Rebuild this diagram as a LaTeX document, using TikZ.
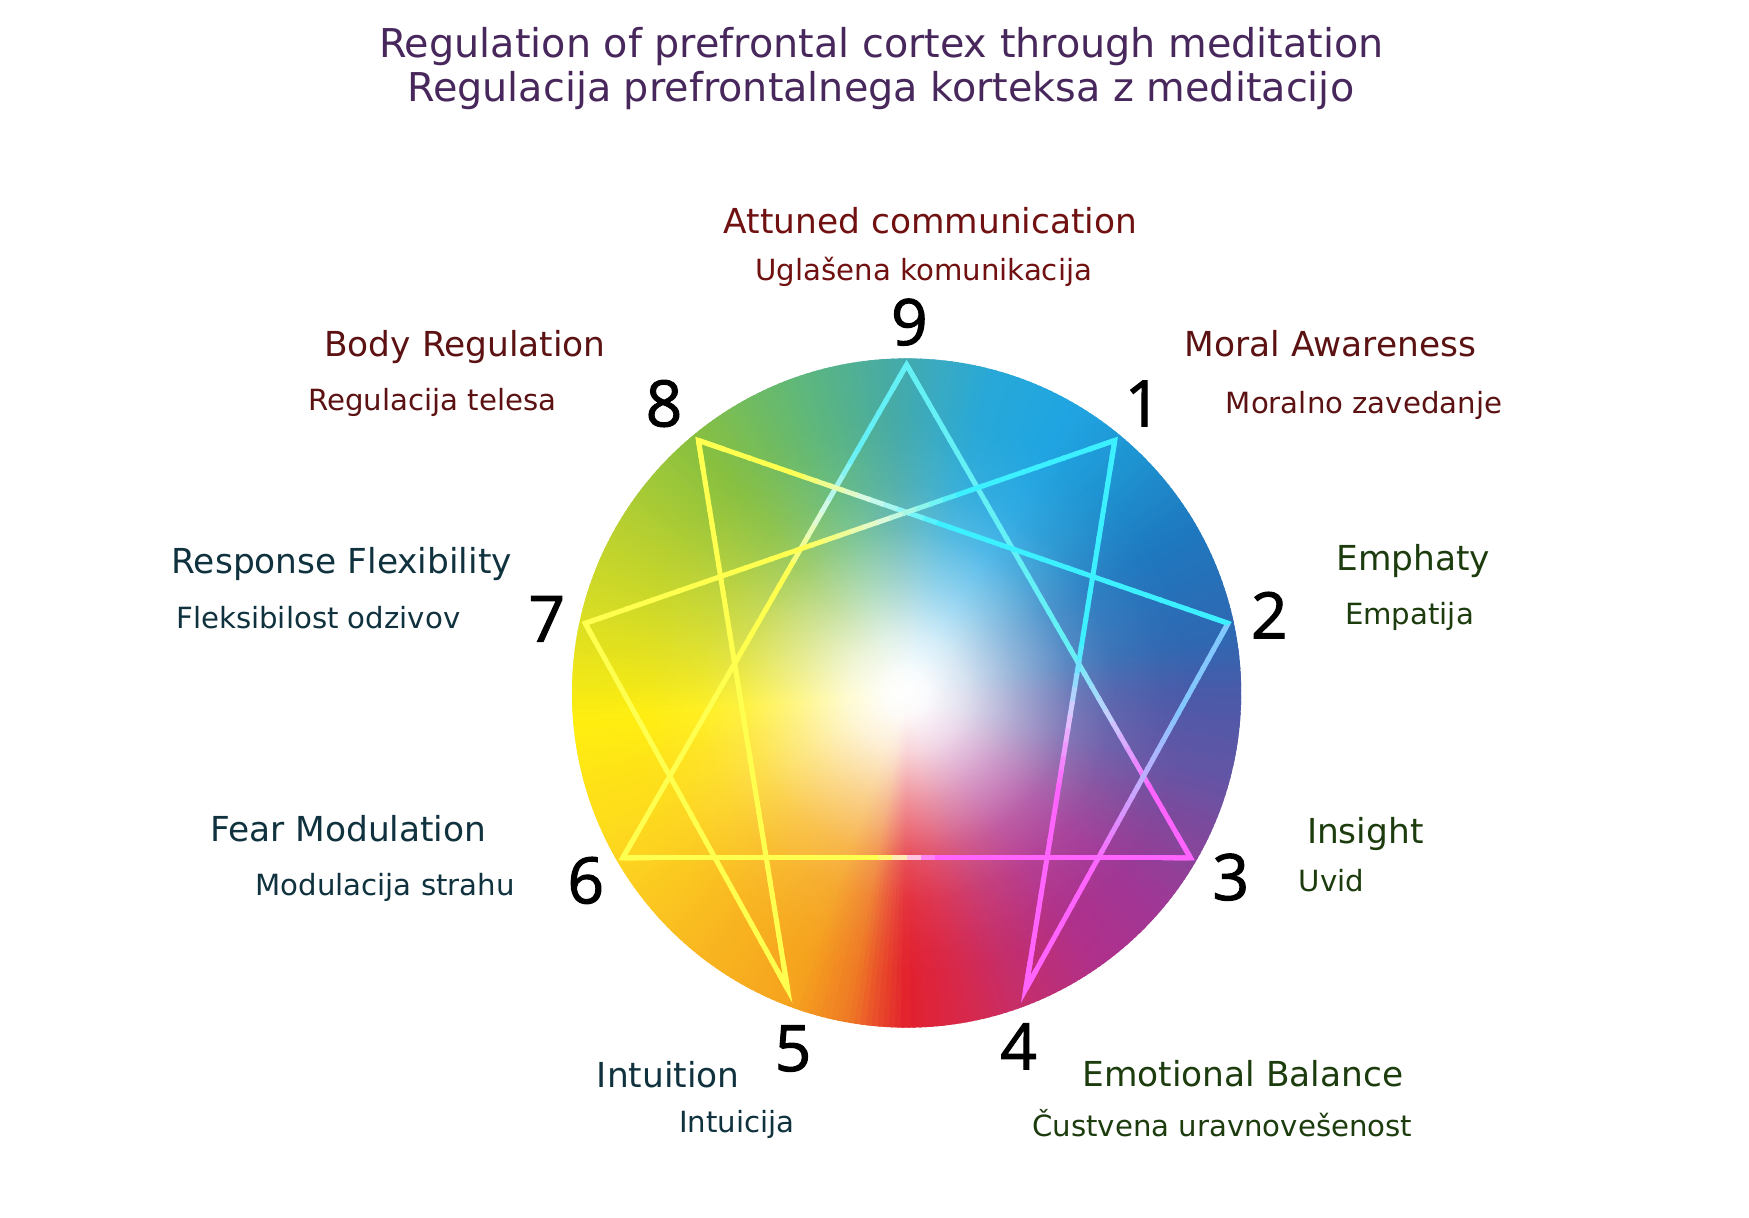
\documentclass[tikz,border=0pt]{standalone}
\usepackage{fontspec}
\setmainfont{DejaVu Sans}
\newfontfamily\digitfont[FakeBold=1.6]{Open Sans}
\usetikzlibrary{calc,fadings}

\definecolor{titlecol}{RGB}{72,40,92}
\definecolor{topcol}{RGB}{92,18,18}
\definecolor{topcolb}{RGB}{112,16,16}
\definecolor{leftcol}{RGB}{15,50,62}
\definecolor{rightcol}{RGB}{28,60,14}

% conic stops
\definecolor{s1}{RGB}{227,32,46}
\definecolor{s2}{RGB}{216,40,74}
\definecolor{s3}{RGB}{197,46,106}
\definecolor{s4}{RGB}{176,48,138}
\definecolor{s5}{RGB}{160,55,150}
\definecolor{s6}{RGB}{138,68,153}
\definecolor{s7}{RGB}{100,85,165}
\definecolor{s8}{RGB}{74,90,168}
\definecolor{s9}{RGB}{47,104,178}
\definecolor{s10}{RGB}{30,120,191}
\definecolor{s11}{RGB}{30,146,208}
\definecolor{s12}{RGB}{32,165,226}
\definecolor{s13}{RGB}{40,168,216}
\definecolor{s14}{RGB}{58,170,192}
\definecolor{s15}{RGB}{69,170,168}
\definecolor{s16}{RGB}{96,184,120}
\definecolor{s17}{RGB}{136,192,64}
\definecolor{s18}{RGB}{184,208,48}
\definecolor{s19}{RGB}{224,224,32}
\definecolor{s20}{RGB}{255,238,16}
\definecolor{s21}{RGB}{253,213,32}
\definecolor{s22}{RGB}{249,184,32}
\definecolor{s23}{RGB}{245,162,30}
\definecolor{s24}{RGB}{239,122,37}
\definecolor{s25}{RGB}{232,74,42}

% line colours
\definecolor{lcy}{RGB}{60,240,255}
\definecolor{lcy9}{RGB}{100,240,245}
\definecolor{lbl2}{RGB}{130,200,255}
\definecolor{lpk}{RGB}{255,100,255}
\definecolor{lye}{RGB}{255,255,80}
\definecolor{m93}{RGB}{200,205,255}
\definecolor{m36}{RGB}{255,225,215}
\definecolor{m69}{RGB}{220,250,230}
\definecolor{m14}{RGB}{225,200,255}
\definecolor{m42}{RGB}{200,170,255}
\definecolor{m28}{RGB}{215,250,235}
\definecolor{m71}{RGB}{225,250,215}

% radial fading: 25bp corresponds to the disk radius (fit fading)
\pgfdeclareradialshading{fadeshade}{\pgfpointorigin}{color(0bp)=(pgftransparent!0); color(1.65bp)=(pgftransparent!3); color(4.4bp)=(pgftransparent!19); color(8.25bp)=(pgftransparent!51); color(12.1bp)=(pgftransparent!79); color(15.4bp)=(pgftransparent!92); color(18.9bp)=(pgftransparent!98); color(21.3bp)=(pgftransparent!100); color(50bp)=(pgftransparent!100)}
\pgfdeclarefading{centerfade}{\pgfuseshading{fadeshade}}

% #1 start, #2 end, #3 col start, #4 col mid, #5 col end, #6 centre of transition, #7 half width
\newcommand\ennline[7]{%
  \foreach \i in {1,...,40}{%
    \pgfmathsetmacro\ta{(\i-1)/40}%
    \pgfmathsetmacro\tb{min(\i/40+0.005,1)}%
    \pgfmathsetmacro\tm{(\i-0.5)/40}%
    \pgfmathsetmacro\fa{max(0,min(1,(\tm-(#6-#7))/#7))}%
    \pgfmathsetmacro\fb{max(0,min(1,(\tm-#6)/#7))}%
    \ifdim\tm pt<#6pt
      \pgfmathsetmacro\pc{100*(1-\fa)}\colorlet{segc}{#3!\pc!#4}%
    \else
      \pgfmathsetmacro\pc{100*\fb}\colorlet{segc}{#5!\pc!#4}%
    \fi
    \draw[enn, segc] ($(#1)!\ta!(#2)$) -- ($(#1)!\tb!(#2)$);
  }%
}

\tikzset{
  mainlab/.style={font=\fontsize{34.4}{41}\selectfont, inner sep=0pt, anchor=base},
  sublab/.style={font=\fontsize{29.2}{35}\selectfont, inner sep=0pt, anchor=base},
  titlelab/.style={font=\fontsize{39.7}{45}\selectfont, inner sep=0pt, anchor=base, text=titlecol},
  digit/.style={font=\digitfont\fontsize{64}{70}\selectfont, inner sep=0pt, anchor=base, text=black},
  enn/.style={line width=5pt, line cap=butt},
  corner/.style={line width=5pt, line join=miter, line cap=butt}
}

\begin{document}
\begin{tikzpicture}[x=1pt,y=-1pt]
\useasboundingbox (0,0) rectangle (1749,1218);
\fill[white] (0,0) rectangle (1749,1218);

% ---- colour disk ----
\begin{scope}[shift={(906.6,693)}, yscale=-1]
  \clip (0,0) circle[radius=334.6];
  \foreach \aa/\ab/\ca/\cb in {-90/-80/s1/s2, -80/-70/s2/s3, -70/-55/s3/s4, -55/-40/s4/s5,
      -40/-30/s5/s6, -30/-15/s6/s7, -15/0/s7/s8, 0/10/s8/s9, 10/30/s9/s10, 30/45/s10/s11,
      45/60/s11/s12, 60/75/s12/s13, 75/85/s13/s14, 85/92/s14/s15, 92/110/s15/s16,
      110/130/s16/s17, 130/150/s17/s18, 150/170/s18/s19, 170/185/s19/s20, 185/210/s20/s21,
      210/230/s21/s22, 230/250/s22/s23, 250/260/s23/s24, 260/265/s24/s25, 265/270/s25/s1}{
    \pgfmathtruncatemacro\nn{\ab-\aa-1}
    \foreach \j in {0,...,\nn}{
      \pgfmathsetmacro\pp{100-100*(\j+0.5)/(\ab-\aa)}
      \pgfmathsetmacro\tha{\aa+\j}
      \pgfmathsetmacro\thb{\aa+\j+1.7}
      \colorlet{wc}{\ca!\pp!\cb}
      \fill[wc] (0,0) -- (\tha:345) -- (\thb:345) -- cycle;
    }
  }
  \fill[white, path fading=centerfade] (0,0) circle[radius=334.6];
\end{scope}

% ---- enneagram vertices ----
\coordinate (v9) at (906.6,364.8);
\coordinate (v1) at (1114.8,440.4);
\coordinate (v2) at (1228.1,623.3);
\coordinate (v3) at (1190.5,857.8);
\coordinate (v4) at (1025.7,989.2);
\coordinate (v5) at (787.6,989.2);
\coordinate (v6) at (622.8,857.8);
\coordinate (v7) at (585.2,623.3);
\coordinate (v8) at (698.4,440.4);

% corner pieces (miter tips)
\draw[corner, lcy9] ($(v9)!0.05!(v3)$) -- (v9) -- ($(v9)!0.05!(v6)$);
\draw[corner, lpk] ($(v3)!0.05!(v9)$) -- (v3) -- ($(v3)!0.05!(v6)$);
\draw[corner, lye] ($(v6)!0.05!(v3)$) -- (v6) -- ($(v6)!0.05!(v9)$);
\draw[corner, lcy] ($(v1)!0.05!(v4)$) -- (v1) -- ($(v1)!0.05!(v7)$);
\draw[corner, lpk] ($(v4)!0.05!(v1)$) -- (v4) -- ($(v4)!0.05!(v2)$);
\draw[corner, lcy] ($(v2)!0.05!(v4)$) -- (v2) -- ($(v2)!0.05!(v8)$);
\draw[corner, lye] ($(v8)!0.05!(v2)$) -- (v8) -- ($(v8)!0.05!(v5)$);
\draw[corner, lye] ($(v5)!0.05!(v8)$) -- (v5) -- ($(v5)!0.05!(v7)$);
\draw[corner, lye] ($(v7)!0.05!(v5)$) -- (v7) -- ($(v7)!0.05!(v1)$);

% gradient lines
\ennline{v9}{v3}{lcy9}{m93}{lpk}{0.72}{0.14}
\ennline{v3}{v6}{lpk}{m36}{lye}{0.5}{0.05}
\ennline{v6}{v9}{lye}{m69}{lcy9}{0.7}{0.12}
\ennline{v1}{v4}{lcy}{m14}{lpk}{0.5}{0.13}
\ennline{v4}{v2}{lpk}{m42}{lbl2}{0.55}{0.22}
\ennline{v2}{v8}{lcy}{m28}{lye}{0.68}{0.14}
\ennline{v8}{v5}{lye}{lye}{lye}{0.5}{0.1}
\ennline{v5}{v7}{lye}{lye}{lye}{0.5}{0.1}
\ennline{v7}{v1}{lye}{m71}{lcy}{0.56}{0.15}

% ---- digits ----
\node[digit] (d9) at (909.4,345) {9};
\node[digit] (d1) at (1143,426.4) {1};
\node[digit] (d8) at (664,426.4) {8};
\node[digit] (d7) at (546.7,641.7) {7};
\node[digit] (d2) at (1269.3,638.3) {2};
\node[digit] (d6) at (585.8,903.3) {6};
\node[digit] (d3) at (1230.8,900) {3};
\node[digit] (d4) at (1018.7,1069.3) {4};
\node[digit] (d5) at (793,1071) {5};

% ---- title ----
\node[titlelab] (title1) at (881.5,57) {Regulation of prefrontal cortex through meditation};
\node[titlelab] (title2) at (880.7,101) {Regulacija prefrontalnega korteksa z meditacijo};

% ---- labels ----
\node[mainlab, text=topcolb] (l9a) at (930.6,233.3) {Attuned communication};
\node[sublab, text=topcolb] (l9b) at (923.8,280) {Uglašena komunikacija};
\node[mainlab, text=topcol] (l8a) at (465,356.7) {Body Regulation};
\node[sublab, text=topcol] (l8b) at (432.5,410) {Regulacija telesa};
\node[mainlab, text=topcol] (l1a) at (1330.4,356.7) {Moral Awareness};
\node[sublab, text=topcol] (l1b) at (1364,413.3) {Moralno zavedanje};
\node[mainlab, text=leftcol] (l7a) at (341.7,573.3) {Response Flexibility};
\node[sublab, text=leftcol] (l7b) at (318.3,628.3) {Fleksibilost odzivov};
\node[mainlab, text=rightcol] (l2a) at (1413.4,570.7) {Emphaty};
\node[sublab, text=rightcol] (l2b) at (1409.5,624) {Empatija};
\node[mainlab, text=leftcol] (l6a) at (348.3,841.7) {Fear Modulation};
\node[sublab, text=leftcol] (l6b) at (385,895) {Modulacija strahu};
\node[mainlab, text=rightcol] (l3a) at (1365.3,843.3) {Insight};
\node[sublab, text=rightcol] (l3b) at (1331.3,891.7) {Uvid};
\node[mainlab, text=leftcol] (l5a) at (668.2,1087.6) {Intuition};
\node[sublab, text=leftcol] (l5b) at (736.8,1132) {Intuicija};
\node[mainlab, text=rightcol] (l4a) at (1243,1086.7) {Emotional Balance};
\node[sublab, text=rightcol] (l4b) at (1222.2,1136.7) {Čustvena uravnovešenost};
\end{tikzpicture}
\end{document}
